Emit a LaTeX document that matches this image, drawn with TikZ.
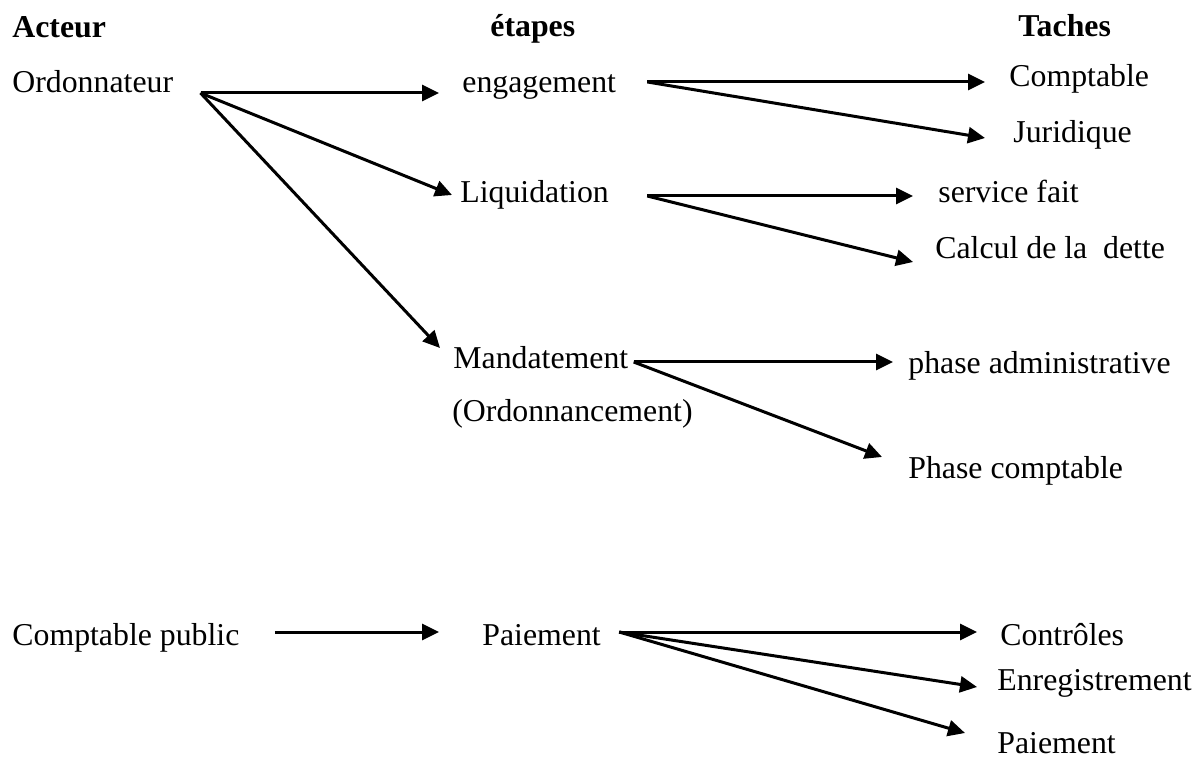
\documentclass[tikz,border=0pt]{standalone}
\usepackage{fontspec}
\setmainfont{Liberation Serif}
\usetikzlibrary{arrows.meta}
\tikzset{
  etiquette/.style={anchor=base west, inner sep=0pt, font=\fontsize{15.9}{19}\selectfont},
  titre/.style={etiquette, font=\fontsize{15.9}{19}\selectfont\bfseries},
  fleche/.style={line width=1.5pt, -{Triangle[length=8.5pt,width=8pt]}}
}
\begin{document}
\begin{tikzpicture}[x=0.5pt, y=-0.5pt]
  \useasboundingbox (0,0) rectangle (1197,758);

  % titres des colonnes
  \node [titre] (acteur) at (12,38) {Acteur};
  \node [titre] (etapes) at (490,37) {étapes};
  \node [titre] (taches) at (1018,37) {Taches};

  % acteurs et etapes
  \node [etiquette] (ord) at (12,93) {Ordonnateur};
  \node [etiquette] (eng) at (462,93) {engagement};
  \node [etiquette] (liq) at (460,203) {Liquidation};
  \node [etiquette] (mand) at (453,369) {Mandatement};
  \node [etiquette] (ordo) at (452,422) {(Ordonnancement)};
  \node [etiquette] (cpub) at (12,645) {Comptable public};
  \node [etiquette] (paie) at (482,645) {Paiement};

  % taches
  \node [etiquette] (compta) at (1009,87) {Comptable};
  \node [etiquette] (jur) at (1013,143) {Juridique};
  \node [etiquette] (serv) at (938,203) {service fait};
  \node [etiquette] (calc) at (935,259) {Calcul de la\ \ dette};
  \node [etiquette] (padm) at (908,373) {phase administrative};
  \node [etiquette] (pcpt) at (908,478) {Phase comptable};
  \node [etiquette] (ctrl) at (1000,645) {Contrôles};
  \node [etiquette] (enr) at (997,690) {Enregistrement};
  \node [etiquette] (paiet) at (997,753) {Paiement};

  % points de depart des fleches
  \coordinate (ord-o) at ([shift={(27,0)}]ord.base east);
  \coordinate (eng-o) at ([shift={(31,-11)}]eng.base east);
  \coordinate (liq-o) at ([shift={(38,-7)}]liq.base east);
  \coordinate (mand-o) at ([shift={(5,-7)}]mand.base east);
  \coordinate (cpub-o) at ([shift={(35,-13)}]cpub.base east);
  \coordinate (paie-o) at ([shift={(18,-13)}]paie.base east);

  \draw [fleche] (ord-o) -- ([shift={(-23,0)}]eng.base west);
  \draw [fleche] (ord-o) -- ([shift={(-8,-8)}]liq.base west);
  \draw [fleche] (ord-o) -- ([shift={(-13,-21)}]mand.base west);

  \draw [fleche] (eng-o) -- ([shift={(-24,0)}]eng-o -| compta.base west);
  \draw [fleche] (eng-o) -- ([shift={(-28,-5)}]jur.base west);

  \draw [fleche] (liq-o) -- ([shift={(-25,0)}]liq-o -| serv.base west);
  \draw [fleche] (liq-o) -- ([shift={(-22,3)}]calc.base west);

  \draw [fleche] (mand-o) -- ([shift={(-15,0)}]mand-o -| padm.base west);
  \draw [fleche] (mand-o) -- ([shift={(-26,-21)}]pcpt.base west);

  \draw [fleche] (cpub-o) -- ([shift={(-43,0)}]cpub-o -| paie.base west);

  \draw [fleche] (paie-o) -- ([shift={(-23,0)}]paie-o -| ctrl.base west);
  \draw [fleche] (paie-o) -- ([shift={(-20,-3)}]enr.base west);
  \draw [fleche] (paie-o) -- ([shift={(-32,-20)}]paiet.base west);
\end{tikzpicture}
\end{document}
